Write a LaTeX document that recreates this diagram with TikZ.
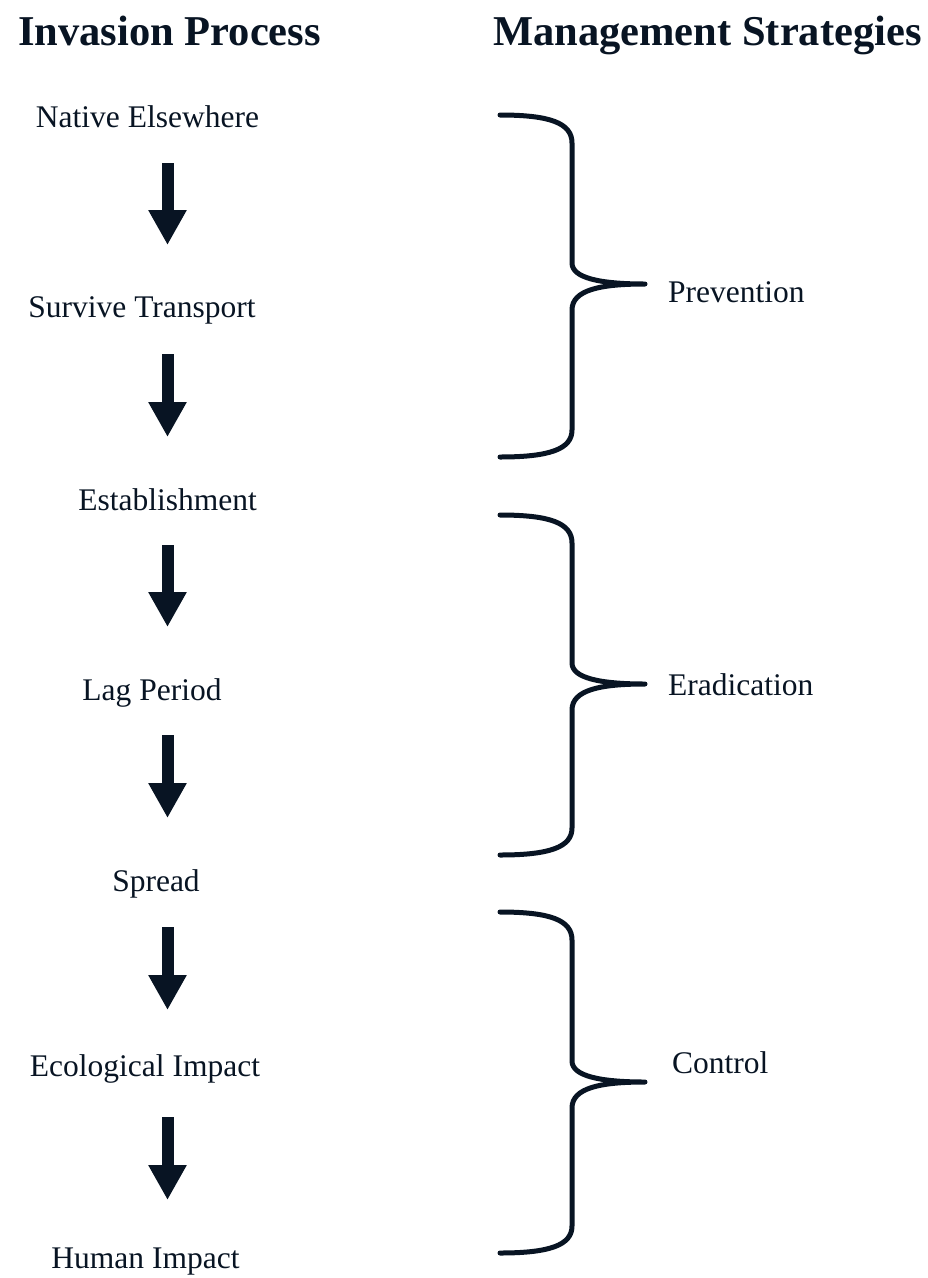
\documentclass[tikz,border=0pt]{standalone}
\usepackage{fontspec}
\setmainfont{Liberation Serif}
\usetikzlibrary{arrows.meta}
\definecolor{ink}{RGB}{8,20,35}
\tikzset{
  title/.style={anchor=base west,inner sep=0pt,font=\fontsize{42.5}{48}\selectfont\bfseries,text=ink},
  stage/.style={anchor=base,inner sep=0pt,font=\fontsize{31.5}{36}\selectfont,text=ink},
  strategy/.style={anchor=base west,inner sep=0pt,font=\fontsize{31.5}{36}\selectfont,text=ink},
  bigarrow/.style={draw=ink,line width=12pt,-{Triangle[width=36pt,length=35pt]},fill=ink},
  bracket/.style={draw=ink,line width=5pt,line cap=round,line join=round}
}
\newcommand{\bracepath}[3]{%
  \draw[bracket] (500,#1) .. controls (550,#1) and (572,#1+8) .. (572,#1+28)
    -- (572,#2-21) .. controls (572,#2-6) and (600,#2) .. (645,#2)
    .. controls (600,#2) and (572,#2+6) .. (572,#2+26)
    -- (572,#3-27) .. controls (572,#3-8) and (550,#3) .. (500,#3);}
\begin{document}
\begin{tikzpicture}[x=1pt,y=-1pt]
\useasboundingbox (0,0) rectangle (928,1278);
\node[title] (t1) at (18,45) {Invasion Process};
\node[title] (t2) at (493,45) {Management Strategies};

\node[stage] (s1) at (147.5,127) {Native Elsewhere};
\node[stage] (s2) at (142,317) {Survive Transport};
\node[stage] (s3) at (167.5,510) {Establishment};
\node[stage] (s4) at (152,700) {Lag Period};
\node[stage] (s5) at (156,891) {Spread};
\node[stage] (s6) at (145,1076) {Ecological Impact};
\node[stage] (s7) at (145.5,1268) {Human Impact};

\coordinate (a1s) at (167.5,163); \coordinate (a1e) at (167.5,245);
\coordinate (a2s) at (167.5,354); \coordinate (a2e) at (167.5,437);
\coordinate (a3s) at (167.5,545); \coordinate (a3e) at (167.5,627);
\coordinate (a4s) at (167.5,735); \coordinate (a4e) at (167.5,818);
\coordinate (a5s) at (167.5,927); \coordinate (a5e) at (167.5,1010);
\coordinate (a6s) at (167.5,1117); \coordinate (a6e) at (167.5,1200);
\foreach \i in {1,...,6} {\draw[bigarrow] (a\i s) -- (a\i e);}

\bracepath{115}{284}{457}
\bracepath{515}{684}{855}
\bracepath{912}{1082}{1253}

\node[strategy] (m1) at (668,302) {Prevention};
\node[strategy] (m2) at (668,695) {Eradication};
\node[strategy] (m3) at (672,1073) {Control};
\end{tikzpicture}
\end{document}
